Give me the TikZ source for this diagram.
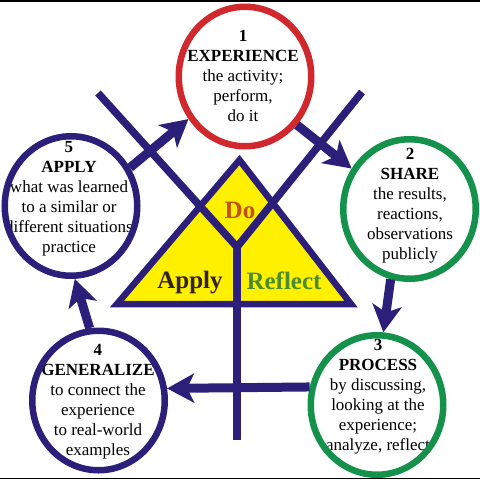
\documentclass[tikz,border=0pt]{standalone}
\usepackage{fontspec}
\setmainfont{Liberation Serif}
\usetikzlibrary{shapes.geometric,arrows.meta,positioning}

\definecolor{navy}{RGB}{43,31,122}
\definecolor{stagered}{RGB}{208,40,45}
\definecolor{stagegreen}{RGB}{20,145,75}
\definecolor{trifill}{RGB}{255,240,0}
\definecolor{docolor}{RGB}{195,80,20}
\definecolor{applycolor}{RGB}{50,35,15}
\definecolor{reflectcolor}{RGB}{75,140,45}

\begin{document}
\begin{tikzpicture}[x=1pt,y=-1pt,
    stage/.style={ellipse, draw, line width=6.5pt, minimum width=132.5pt, minimum height=139.5pt, inner sep=0pt},
    words/.style={align=center, font=\fontsize{17}{20}\selectfont},
    corner/.style={font=\fontsize{25}{30}\selectfont\bfseries},
    flow/.style={line width=9pt, draw=navy, -{Stealth[length=27pt,width=29pt,inset=7pt]}},
    bar/.style={line width=7.5pt, draw=navy}]
    \useasboundingbox (0,0) rectangle (480,480);

    % Frame lines
    \draw[line width=1.5pt] (0,0.75) -- (480,0.75);
    \draw[line width=1.5pt] (0,478.5) -- (480,478.5);

    % Triangle
    \draw[fill=trifill, draw=navy, line width=6.5pt, line join=miter]
        (239.5,160) -- (351,304) -- (117,304) -- cycle;

    % Crossing lines and stem
    \coordinate (yjoin) at (237,247);
    \coordinate (lefttop) at (98,93);
    \coordinate (righttop) at (362,92);
    \coordinate (stem) at (237,440);
    \draw[bar] (lefttop) -- (yjoin);
    \draw[bar] (righttop) -- (yjoin);
    \draw[bar] (yjoin) -- (stem);

    % Triangle words
    \node[corner, text=docolor] (do) at (240,210) {Do};
    \node[corner, text=applycolor] (applyword) at (190,283) {Apply};
    \node[corner, text=reflectcolor] (reflectword) at (284,281) {Reflect};

    % Stage texts
    \node[words] (texp) at (243,76) {\textbf{1}\\\textbf{EXPERIENCE}\\the activity;\\perform,\\do it};
    \node[words] (tshare) at (410,206) {\textbf{2}\\\textbf{SHARE}\\the results,\\reactions,\\observations\\publicly};
    \node[words] (tprocess) at (378,397) {\textbf{3}\\\textbf{PROCESS}\\by discussing,\\looking at the\\experience;\\analyze, reflect};
    \node[words] (tgen) at (98,402) {\textbf{4}\\\textbf{GENERALIZE}\\to connect the\\experience\\to real-world\\examples};
    \node[words] (tapply) at (69,199) {\textbf{5}\\\textbf{APPLY}\\what was learned\\to a similar or\\different situations\\practice};

    % Stage circles
    \node[stage, draw=stagered] (experience) at (245,76.5) {};
    \node[stage, draw=stagegreen] (share) at (409.5,209) {};
    \node[stage, draw=stagegreen] (process) at (377,405) {};
    \node[stage, draw=navy] (generalize) at (98.5,400.5) {};
    \node[stage, draw=navy] (apply) at (71,206) {};

    % Cycle arrows
    \draw[flow] (apply.33) -- (experience.217);
    \draw[flow] (experience.317) -- (share.145);
    \draw[flow] (share.255) -- (process.85);
    \draw[flow] (process.165) -- (generalize.10);
    \draw[flow] (generalize.97) -- (apply.273);
\end{tikzpicture}
\end{document}
